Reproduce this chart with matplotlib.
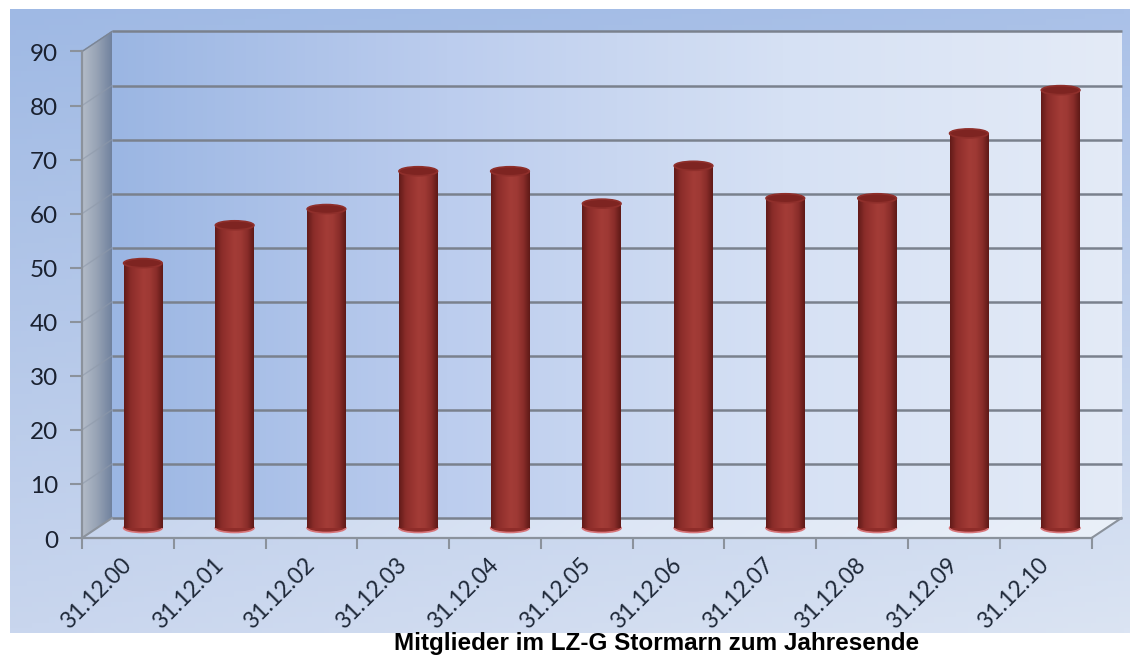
import matplotlib
matplotlib.use('Agg')
import matplotlib.pyplot as plt
import numpy as np
from matplotlib.colors import LinearSegmentedColormap, to_rgb
from matplotlib.patches import Ellipse
from matplotlib.transforms import ScaledTranslation, Affine2D

# data
dates = ['31.12.00', '31.12.01', '31.12.02', '31.12.03', '31.12.04', '31.12.05',
         '31.12.06', '31.12.07', '31.12.08', '31.12.09', '31.12.10']
members = [49, 56, 59, 66, 66, 60, 67, 61, 61, 73, 81]
y_ticks = [0, 10, 20, 30, 40, 50, 60, 70, 80, 90]
title = 'Mitglieder im LZ-G Stormarn zum Jahresende'

W, H = 1130, 661
DPI = 100
fig = plt.figure(figsize=(W / DPI, H / DPI), dpi=DPI)
fig.patch.set_facecolor('white')

# chart-area background (gradient)
bg = fig.add_axes([0, 0, 1, 1])
bg.set_xlim(0, 1)
bg.set_ylim(0, 1)
bg.set_axis_off()
tl, tr = np.array(to_rgb('#9fb9e4')), np.array(to_rgb('#aac1e8'))
bl, br = np.array(to_rgb('#c9d6ee')), np.array(to_rgb('#dbe4f3'))
u = np.linspace(0, 1, 200)[None, :, None]
v = np.linspace(0, 1, 120)[:, None, None]
grad = (1 - v) * ((1 - u) * tl + u * tr) + v * ((1 - u) * bl + u * br)
bg.imshow(grad, extent=(10 / W, 1.0, 1 - 633 / H, 1 - 9 / H), origin='upper',
          aspect='auto', zorder=0)

# main axes = middle depth plane of the 3D chart
x_left, x_right, y_zero, y_top = 97, 1106.5, 528, 41.5
ax = fig.add_axes([x_left / W, 1 - y_zero / H, (x_right - x_left) / W, (y_zero - y_top) / H])
ax.set_xlim(-0.5, len(dates) - 0.5)
ax.set_ylim(0, 90)
ax.set_axis_off()

DX, DY = 15, 10  # depth offset in pixels


def plane(d):
    return ax.transData + ScaledTranslation(d * DX / DPI, d * DY / DPI, fig.dpi_scale_trans)


front, back = plane(-1), plane(1)
x0 = -0.5
x1 = len(dates) - 0.5
px0, py0 = ax.transData.transform((x0, 0))
_, py90 = ax.transData.transform((x0, 90))
sy = (py90 - py0) / 90
ex0, _ = ax.transData.transform((0, 0))
ex1, _ = ax.transData.transform((1, 0))
sx = ex1 - ex0
# (depth, value) on the left wall ; (x, depth) on the floor
wall_T = Affine2D.from_values(DX, DY, 0, sy, px0, py0)
floor_T = Affine2D.from_values(sx, 0, DX, DY, ex0, py0)

# back wall
bw = LinearSegmentedColormap.from_list('bw', ['#9bb6e3', '#bccdee', '#d6e1f4', '#e4ebf7'])
ax.imshow(np.linspace(0, 1, 256)[None, :], cmap=bw, extent=(x0, x1, 0, 90),
          transform=back, aspect='auto', clip_on=False, zorder=1)
# left wall
lw_cmap = LinearSegmentedColormap.from_list('lw', ['#b4bcc8', '#97a3b5', '#71829e'])
ax.imshow(np.linspace(0, 1, 64)[None, :], cmap=lw_cmap, extent=(-1, 1, 0, 90),
          transform=wall_T, aspect='auto', clip_on=False, zorder=1)
# floor
fl_cmap = LinearSegmentedColormap.from_list('fl', ['#c7d5ee', '#dde6f5', '#eaf0f9'])
ax.imshow(np.linspace(0, 1, 256)[None, :], cmap=fl_cmap, extent=(x0, x1, -1, 1),
          transform=floor_T, aspect='auto', clip_on=False, zorder=1)

grid_c = '#7a818d'
ax.hlines(y_ticks, x0, x1, colors=grid_c, lw=1.8, transform=back, clip_on=False, zorder=2)
for t in y_ticks[1:]:
    ax.plot([-1, 1], [t, t], color='#8e99aa', lw=1.0, alpha=0.6, transform=wall_T,
            clip_on=False, zorder=2)
ax.plot([-1, 1], [90, 90], color='#7a8596', lw=1.0, transform=wall_T, clip_on=False, zorder=2)

# floor edges and axes
axis_c = '#8b929c'
ax.plot([x1, x1], [-1, 1], color=axis_c, lw=1.5, transform=floor_T, clip_on=False, zorder=3)
ax.plot([x0, x0], [-1, 1], color=axis_c, lw=1.5, transform=floor_T, clip_on=False, zorder=3)
bounds = np.arange(len(dates) + 1) - 0.5
ax.plot([x0, x1], [0, 0], color=axis_c, lw=1.6, transform=front, clip_on=False, zorder=3)
ax.plot(bounds, np.zeros(len(bounds)), ls='none', marker=3, ms=8, mew=1.5, color=axis_c,
        transform=front, clip_on=False, zorder=3)
ax.plot([x0, x0], [0, 90], color=axis_c, lw=1.6, transform=front, clip_on=False, zorder=3)
ax.plot(np.full(len(y_ticks), x0), y_ticks, ls='none', marker=0, ms=9, mew=1.5,
        color=axis_c, transform=front, clip_on=False, zorder=3)

# y labels
ylab_T = ax.transData + ScaledTranslation((-DX - 24) / DPI, (-DY - 3) / DPI, fig.dpi_scale_trans)
for t in y_ticks:
    ax.text(x0, t, str(t), ha='right', va='center', fontsize=17.5, family='Lato',
            color='#1a2130', transform=ylab_T, clip_on=False)

# x labels
xlab_T = ax.transData + ScaledTranslation((-DX + 0) / DPI, (-DY - 24) / DPI, fig.dpi_scale_trans)
for i, d in enumerate(dates):
    ax.text(i, 0, d, ha='right', va='center', rotation=45, rotation_mode='anchor',
            fontsize=16.5, family='Lato', color='#1e2838', transform=xlab_T, clip_on=False)

# cylinders
bar_w = 0.42
ell_h = 9 / abs(sy)
body = LinearSegmentedColormap.from_list(
    'body', ['#621b19', '#8a2c29', '#983430', '#a33c37', '#9e3934', '#8a2d2a', '#5e1917'])
xs = np.arange(len(dates))
bars = ax.bar(xs, members, width=bar_w, color='#962f2c', zorder=5)
for xi, val, b in zip(xs, members, bars):
    bot = Ellipse((xi, 0), bar_w, ell_h, facecolor='#8e2c29', edgecolor='#d8767a',
                  lw=1.2, zorder=4, clip_on=False)
    ax.add_patch(bot)
    im = ax.imshow(np.linspace(0, 1, 128)[None, :], cmap=body, aspect='auto',
                   extent=(xi - bar_w / 2, xi + bar_w / 2, 0, val), zorder=5)
    im.set_clip_path(b)
    top = Ellipse((xi, val), bar_w, ell_h, facecolor='#7e2421', edgecolor='#8f2f2b',
                  lw=1.2, zorder=6)
    ax.add_patch(top)

ax.set_xlim(-0.5, len(dates) - 0.5)
ax.set_ylim(0, 90)

fig.text(657 / W, 1 - 632 / H, title, ha='center', va='top', fontsize=17.5,
         fontweight='bold', family='Liberation Sans', color='black')

fig.savefig('out.png', dpi=DPI)
